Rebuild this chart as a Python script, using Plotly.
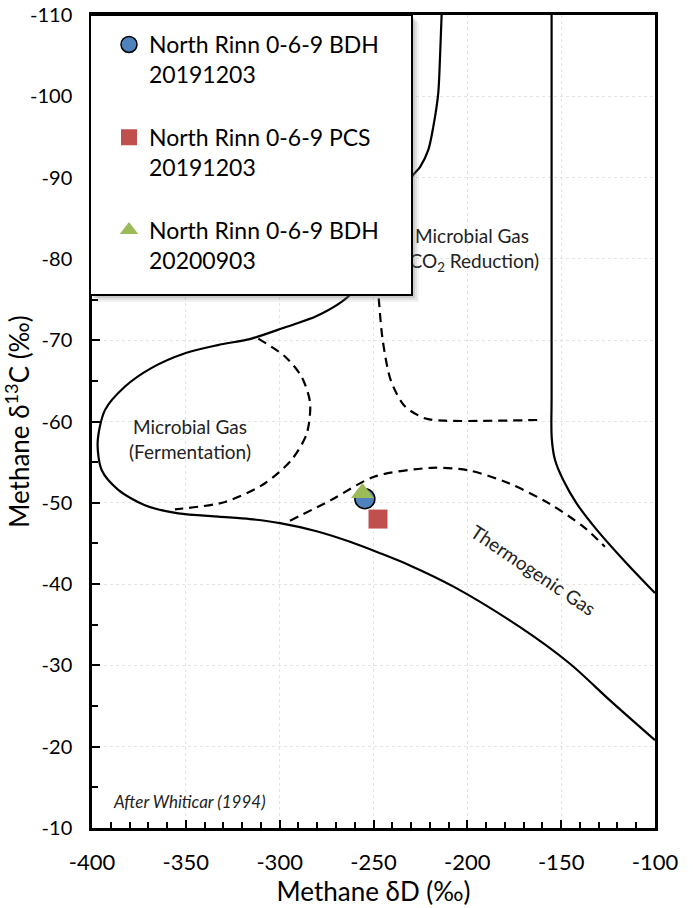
import plotly.graph_objects as go

# ---- data (Methane dD, Methane d13C) ----
bdh2019_dD = [-254.6]
bdh2019_d13C = [-50.5]
pcs2019_dD = [-247.6]
pcs2019_d13C = [-48.0]
bdh2020_dD = [-255.9]
bdh2020_d13C = [-51.2]

# Whiticar (1994) field boundaries
outer_dD = [-213.7, -214.6, -215.5, -218.1, -220.8, -225.2, -229.6, -243.9, -262.5, -280.0,
            -297.0, -315.0, -332.9, -350.4, -368.2, -382.4, -393.1, -397.0, -394.8, -386.0,
            -371.8, -354.0, -332.7, -315.8, -299.8, -280.3, -262.5, -246.5, -230.6, -206.6,
            -171.9, -145.3, -124.0, -100.0]
outer_d13C = [-110.0, -104.5, -100.4, -96.3, -93.4, -91.3, -90.1, -82.9, -75.6, -73.0,
              -71.6, -70.2, -69.4, -68.4, -66.6, -64.3, -61.4, -57.4, -54.0, -51.6,
              -49.7, -48.7, -48.3, -48.0, -47.5, -46.5, -45.2, -43.8, -42.3, -39.6,
              -34.7, -30.2, -25.7, -20.8]

thermo_right_dD = [-155.1, -155.1, -155.1, -155.1, -155.1, -155.1, -155.0, -153.3, -148.9,
                   -141.7, -131.1, -116.9, -100.0]
thermo_right_d13C = [-110.0, -100.0, -90.0, -80.0, -70.0, -63.0, -57.9, -55.3, -52.8,
                     -49.9, -46.7, -43.0, -38.9]

co2_dD = [-247.9, -247.2, -245.1, -240.7, -233.4, -222.7, -211.9, -160.0]
co2_d13C = [-77.0, -75.1, -70.0, -65.0, -61.9, -60.4, -60.1, -60.2]

ferm_dD = [-311.4, -297.2, -288.3, -283.8, -285.6, -293.6, -307.8, -329.1, -355.8]
ferm_d13C = [-70.2, -68.0, -65.5, -62.3, -58.5, -55.3, -52.4, -50.1, -49.2]

thermo_upper_dD = [-294.5, -272.9, -249.7, -219.1, -199.4, -177.8, -156.3, -138.4, -126.7]
thermo_upper_d13C = [-47.8, -50.3, -53.2, -54.3, -54.0, -52.4, -49.9, -47.1, -44.6]

x_ticks = [-400, -350, -300, -250, -200, -150, -100]
x_ticktext = ["-400", "-350", "-300", "-250", "-200", "-150", "-100"]
y_ticks = [-110, -100, -90, -80, -70, -60, -50, -40, -30, -20, -10]
y_ticktext = ["-110", "-100", "-90", "-80", "-70", "-60", "-50", "-40", "-30", "-20", "-10"]

FONT = "Lato"
PAGE_OFF = 0          # body margin is removed by the post script below
W, H = 693, 908
L, R, T, B = 92, 38, 15, 80
PW, PH = W - L - R, H - T - B

def px2paper_x(px):   # px measured in the browser window
    return (px - PAGE_OFF - L) / PW

def px2paper_y(py):
    return 1 - (py - PAGE_OFF - T) / PH

fig = go.Figure()

def boundary(xs, ys, dash=None, smoothing=0.8):
    fig.add_trace(go.Scatter(
        x=xs, y=ys, mode="lines", showlegend=False, hoverinfo="skip",
        line=dict(color="black", width=2.2, shape="spline", smoothing=smoothing,
                  dash=dash if dash else "solid")))

boundary(outer_dD, outer_d13C)
boundary(thermo_right_dD, thermo_right_d13C, smoothing=1.0)
boundary(co2_dD, co2_d13C, "9px,6px")
boundary(ferm_dD, ferm_d13C, "9px,6px")
boundary(thermo_upper_dD, thermo_upper_d13C, "9px,6px")

# region labels (drawn under the legend box)
fig.add_trace(go.Scatter(
    x=[-347.8, -197.5], y=[-57.5, -81.0], mode="text", showlegend=False, hoverinfo="skip",
    text=["Microbial Gas<br>(Fermentation)", "Microbial Gas<br>(CO<sub>2</sub> Reduction)"],
    textfont=dict(family=FONT, size=19, color="#222")))

fig.add_trace(go.Scatter(
    x=bdh2019_dD, y=bdh2019_d13C, mode="markers", name="North Rinn 0-6-9 BDH<br>20191203",
    legendgroup="a",
    marker=dict(symbol="circle", size=20, color="#4F81BD", line=dict(color="black", width=1.5))))
fig.add_trace(go.Scatter(
    x=pcs2019_dD, y=pcs2019_d13C, mode="markers", name="North Rinn 0-6-9 PCS<br>20191203",
    legendgroup="b",
    marker=dict(symbol="square", size=19, color="#C0504D")))
fig.add_trace(go.Scatter(
    x=bdh2020_dD, y=bdh2020_d13C, mode="markers", name="North Rinn 0-6-9 BDH<br>20200903",
    legendgroup="c",
    marker=dict(symbol="triangle-up", size=20, color="#9BBB59")))

fig.add_annotation(x=-165, y=-41.8, text="Thermogenic Gas", showarrow=False, textangle=34,
                   font=dict(family=FONT, size=19, color="#222"))
fig.add_annotation(x=-348, y=-13.2, text="<i>After Whiticar (1994)</i>", showarrow=False,
                   font=dict(family=FONT, size=17, color="#222"))

axis_common = dict(
    showline=True, linecolor="black", linewidth=2.5, mirror=True,
    ticks="inside", tickcolor="black", tickwidth=2, ticklen=8,
    showgrid=True, gridcolor="#e4e4e4", griddash="dot", gridwidth=1,
    zeroline=False, automargin=False, ticklabeloverflow="allow",
)

fig.update_xaxes(range=[-400, -100], tickmode="array", tickvals=x_ticks, ticktext=x_ticktext,
                 tickfont=dict(family=FONT, size=22, color="black"), ticklabelstandoff=13,
                 minor=dict(dtick=10, tick0=-400, ticks="inside", ticklen=6, tickcolor="black",
                            tickwidth=2, showgrid=False),
                 title=dict(text="Methane δD (‰)", font=dict(family=FONT, size=26, color="black"), standoff=8),
                 **axis_common)
fig.update_yaxes(range=[-10, -110], tickmode="array", tickvals=y_ticks, ticktext=y_ticktext,
                 tickfont=dict(family=FONT, size=20, color="black"), ticklabelstandoff=13,
                 minor=dict(dtick=5, tick0=-110, ticks="inside", ticklen=6, tickcolor="black",
                            tickwidth=2, showgrid=False),
                 title=dict(text="Methane δ<sup>13</sup>C (‰)", font=dict(family=FONT, size=26, color="black"),
                            standoff=16),
                 **axis_common)

# legend box with soft shadow
box = dict(x0=90, x1=412, y0=15, y1=295)
for off, op in [(7, 0.10), (5, 0.15), (3, 0.22)]:
    fig.add_shape(type="rect", xref="paper", yref="paper",
                  x0=px2paper_x(box["x0"] + off), x1=px2paper_x(box["x1"] + off),
                  y0=px2paper_y(box["y1"] + off), y1=px2paper_y(box["y0"] + off),
                  line=dict(width=0), fillcolor="#808080", opacity=op, layer="above")
fig.add_shape(type="rect", xref="paper", yref="paper",
              x0=px2paper_x(box["x0"]), x1=px2paper_x(box["x1"]),
              y0=px2paper_y(box["y1"]), y1=px2paper_y(box["y0"]),
              line=dict(width=2, color="black"), fillcolor="white", layer="above")

fig.update_layout(
    width=W, height=H,
    margin=dict(l=L, r=R, t=T, b=B),
    paper_bgcolor="white", plot_bgcolor="white",
    font=dict(family=FONT, color="black"),
    legend=dict(x=px2paper_x(97), y=px2paper_y(23), xanchor="left", yanchor="top",
                bgcolor="rgba(0,0,0,0)", borderwidth=0,
                font=dict(family=FONT, size=23, color="black"),
                tracegroupgap=30, valign="top", indentation=12, itemwidth=30),
)

fig.write_html("out.html",
               config={"displayModeBar": False},
               post_script="document.body.style.margin='0';document.body.style.overflow='hidden';")
